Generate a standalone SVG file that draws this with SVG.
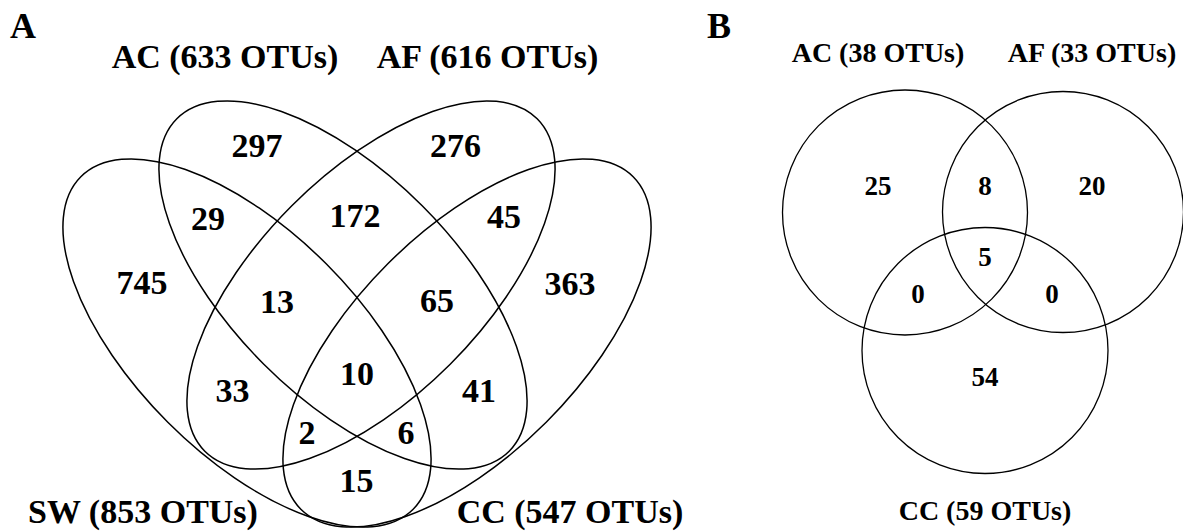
<svg xmlns="http://www.w3.org/2000/svg" width="1183" height="532" viewBox="0 0 1183 532">
<style>
.e{fill:none;stroke:#000;stroke-width:1.5}
.c{fill:none;stroke:#000;stroke-width:1.3}
text{font-family:"Liberation Serif","Times New Roman",serif;font-weight:bold;fill:#000;text-anchor:middle}
.p{font-size:36px;text-anchor:start}
.la{font-size:34px}
.na{font-size:34px}
.lb{font-size:28px}
.nb{font-size:27px}
</style>
<rect width="1183" height="532" fill="#fff"/>
<g id="panelA">
<g id="setSW"><ellipse class="e" cx="247" cy="343" rx="235" ry="112" transform="rotate(45 247 343)"/></g>
<g id="setAC"><ellipse class="e" cx="343" cy="285" rx="235" ry="112" transform="rotate(45 343 285)"/></g>
<g id="setAF"><ellipse class="e" cx="371" cy="285" rx="235" ry="112" transform="rotate(-45 371 285)"/></g>
<g id="setCC"><ellipse class="e" cx="467" cy="343" rx="235" ry="112" transform="rotate(-45 467 343)"/></g>
<g id="labelsA">
<text class="p" x="10" y="38">A</text>
<text class="la" x="225" y="68">AC (633 OTUs)</text>
<text class="la" x="487.5" y="68">AF (616 OTUs)</text>
<text class="la" x="143" y="523">SW (853 OTUs)</text>
<text class="la" x="570" y="523">CC (547 OTUs)</text>
</g>
<g id="countsA">
<text class="na" x="257" y="157">297</text>
<text class="na" x="455.5" y="157">276</text>
<text class="na" x="208" y="230">29</text>
<text class="na" x="355" y="227">172</text>
<text class="na" x="504" y="228">45</text>
<text class="na" x="142" y="294">745</text>
<text class="na" x="277" y="313">13</text>
<text class="na" x="437" y="312">65</text>
<text class="na" x="570" y="295">363</text>
<text class="na" x="357" y="385">10</text>
<text class="na" x="232.5" y="402">33</text>
<text class="na" x="479" y="402">41</text>
<text class="na" x="307" y="444">2</text>
<text class="na" x="406" y="444">6</text>
<text class="na" x="356.5" y="492">15</text>
</g>
</g>
<g id="panelB">
<g id="setAC_B"><circle class="c" cx="905" cy="212.5" r="122.5"/></g>
<g id="setAF_B"><circle class="c" cx="1063" cy="212" r="120.5"/></g>
<g id="setCC_B"><circle class="c" cx="985" cy="350.5" r="123"/></g>
<g id="labelsB">
<text class="p" x="707" y="38">B</text>
<text class="lb" x="878" y="62">AC (38 OTUs)</text>
<text class="lb" x="1092" y="62">AF (33 OTUs)</text>
<text class="lb" x="985" y="520">CC (59 OTUs)</text>
</g>
<g id="countsB">
<text class="nb" x="878" y="195">25</text>
<text class="nb" x="985" y="195">8</text>
<text class="nb" x="1092" y="195">20</text>
<text class="nb" x="985" y="266">5</text>
<text class="nb" x="918" y="303">0</text>
<text class="nb" x="1052" y="303">0</text>
<text class="nb" x="985" y="386">54</text>
</g>
</g>
</svg>
